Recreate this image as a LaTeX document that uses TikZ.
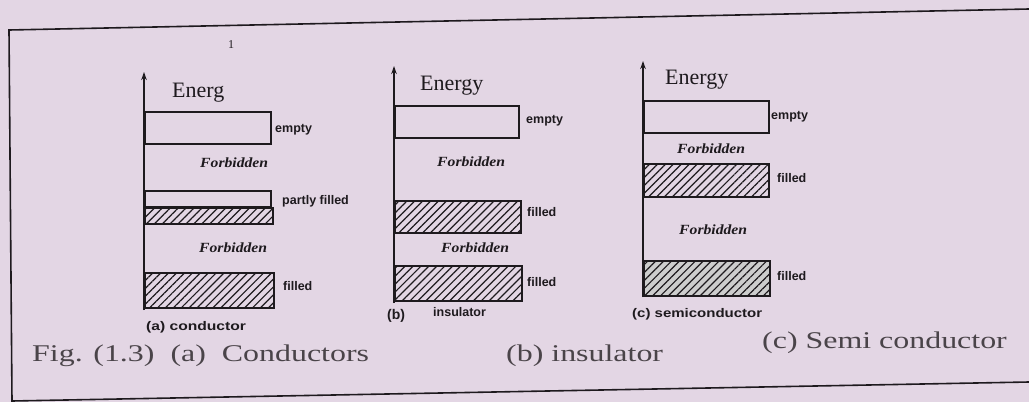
\documentclass[tikz,border=0pt]{standalone}
\usepackage{fontspec}
\setmainfont{Liberation Serif}
\setsansfont{Liberation Sans}
\usetikzlibrary{patterns.meta,arrows.meta}
\definecolor{paper}{HTML}{E3D6E4}
\definecolor{ink}{HTML}{1E1A1E}
\definecolor{captink}{HTML}{4A4449}
\tikzset{
 band/.style={draw=ink, line width=1.9pt, inner sep=0pt, anchor=north west},
 hatched/.style={band, pattern={Lines[angle=45,distance=5.6pt,line width=1.2pt]}, pattern color=ink},
 axisline/.style={draw=ink, line width=1.3pt, -{Stealth[length=8pt,width=5.5pt]}},
 lbl/.style={font=\sffamily\bfseries\fontsize{12.5}{13}\selectfont, text=ink, anchor=base west, inner sep=0pt},
 forb/.style={font=\bfseries\itshape\fontsize{14}{15}\selectfont, text=ink, anchor=base west, inner sep=0pt},
 enlbl/.style={font=\fontsize{22}{24}\selectfont, text=ink, anchor=base west, inner sep=0pt},
 sublbl/.style={font=\sffamily\bfseries\fontsize{12.5}{13}\selectfont, text=ink, anchor=base west, inner sep=0pt},
 figcap/.style={font=\fontsize{24}{28}\selectfont, text=captink, anchor=base west, inner sep=0pt},
 frameline/.style={draw=ink, line width=1.6pt},
}
\begin{document}
\begin{tikzpicture}[x=1pt,y=-1pt]
\fill[paper] (0,0) rectangle (1029,402);
\useasboundingbox (0,0) rectangle (1029,402);
% frame
\coordinate (fTR) at (1029,9);
\coordinate (fTL) at (9,30);
\coordinate (fBL) at (12,401);
\coordinate (fBR) at (1029,382);
\draw[frameline] (fTR) -- (fTL) -- (fBL) -- (fBR);
\node[font=\fontsize{12}{12}\selectfont, text=ink, inner sep=0pt] (mark) at (231,45) {1};

% ---------- (a) conductor ----------
\coordinate (aBot) at (144,310);
\coordinate (aTop) at (144,72);
\draw[axisline] (aBot) -- (aTop);
\node[enlbl] (aE) at (172,97) {Energ};
\node[band, minimum width=126pt, minimum height=32pt] (aEmpty) at (144,111) {};
\node[lbl] (aEmptyL) at (275,132) {empty};
\node[forb] (aF1) at (200,167) {\scalebox{1.12}[1]{Forbidden}};
\node[band, minimum width=126pt, minimum height=16pt] (aPartE) at (144,190) {};
\node[hatched, minimum width=128pt, minimum height=16pt] (aPartH) at (144,207) {};
\node[lbl] (aPartL) at (282,204) {partly filled};
\node[forb] (aF2) at (199,252) {\scalebox{1.12}[1]{Forbidden}};
\node[hatched, minimum width=129pt, minimum height=35pt] (aFill) at (144,272) {};
\node[lbl] (aFillL) at (283,290) {filled};
\node[sublbl] (aSub) at (146,330) {\scalebox{1.25}[1]{(a) conductor}};

% ---------- (b) insulator ----------
\coordinate (bBot) at (394,303);
\coordinate (bTop) at (394,66);
\draw[axisline] (bBot) -- (bTop);
\node[enlbl] (bE) at (420,90) {Energy};
\node[band, minimum width=124pt, minimum height=32pt] (bEmpty) at (394,105) {};
\node[lbl] (bEmptyL) at (526,123) {empty};
\node[forb] (bF1) at (437,166) {\scalebox{1.12}[1]{Forbidden}};
\node[hatched, minimum width=126pt, minimum height=32pt] (bFill1) at (394,200) {};
\node[lbl] (bFill1L) at (527,216) {filled};
\node[forb] (bF2) at (441,252) {\scalebox{1.12}[1]{Forbidden}};
\node[hatched, minimum width=127pt, minimum height=35pt] (bFill2) at (394,265) {};
\node[lbl] (bFill2L) at (527,286) {filled};
\node[sublbl, font=\sffamily\bfseries\fontsize{14}{14}\selectfont] (bSubA) at (387,319) {(b)};
\node[sublbl] (bSubB) at (433,316) {insulator};

% ---------- (c) semiconductor ----------
\coordinate (cBot) at (643,297);
\coordinate (cTop) at (643,61);
\draw[axisline] (cBot) -- (cTop);
\node[enlbl] (cE) at (665,84) {Energy};
\node[band, minimum width=125pt, minimum height=32pt] (cEmpty) at (643,100) {};
\node[lbl] (cEmptyL) at (771,119) {empty};
\node[forb] (cF1) at (677,153) {\scalebox{1.12}[1]{Forbidden}};
\node[hatched, minimum width=125pt, minimum height=33pt] (cFill1) at (643,163) {};
\node[lbl] (cFill1L) at (777,182) {filled};
\node[forb] (cF2) at (679,234) {\scalebox{1.12}[1]{Forbidden}};
\node[hatched, minimum width=126pt, minimum height=35pt, line width=2.3pt, preaction={fill=ink!22}] (cFill2) at (643,260) {};
\node[lbl] (cFill2L) at (777,280) {filled};
\node[sublbl] (cSub) at (632,317) {\scalebox{1.2}[1]{(c) semiconductor}};

% ---------- captions ----------
\node[figcap] (capA) at (32,361) {\scalebox{1.33}[1]{Fig. (1.3)\ \ (a)\ \ Conductors}};
\node[figcap] (capB) at (506,361) {\scalebox{1.33}[1]{(b) insulator}};
\node[figcap] (capC) at (762,348) {\scalebox{1.33}[1]{(c) Semi conductor}};
\end{tikzpicture}
\end{document}
